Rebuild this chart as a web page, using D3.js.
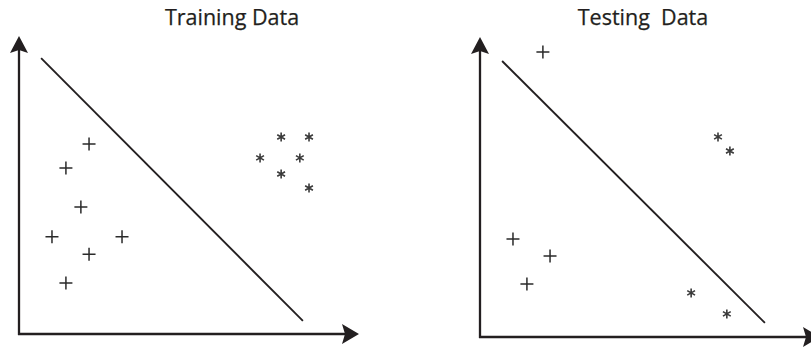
<!DOCTYPE html>
<html>
<head>
<meta charset="utf-8">
<script src="https://cdn.jsdelivr.net/npm/d3@7"></script>
<style>
  html, body { margin: 0; padding: 0; background: #fff; }
  svg { display: block; }
</style>
</head>
<body>
<svg id="chart" width="811" height="347"></svg>
<script>
// ---- data ----
const panelTitles = ["Training Data", "Testing\u00a0 Data"];

const trainPlusX = [2.06, 1.38, 1.82, 0.97, 3.03, 2.06, 1.38];
const trainPlusY = [6.38, 5.57, 4.26, 3.26, 3.26, 2.68, 1.71];
const trainStarX = [7.71, 8.53, 7.09, 8.26, 7.71, 8.53];
const trainStarY = [6.61, 6.61, 5.91, 5.91, 5.37, 4.90];
const trainLineX = [0.65, 8.35];
const trainLineY = [9.26, 0.44];

const testPlusX = [1.85, 0.97, 2.06, 1.38];
const testPlusY = [9.50, 3.27, 2.70, 1.77];
const testStarX = [7.00, 7.35, 6.21, 7.26];
const testStarY = [6.67, 6.20, 1.47, 0.77];
const testLineX = [0.65, 8.38];
const testLineY = [9.20, 0.47];

const axisDomain = [0, 10];

// ---- layout ----
const panels = [
  { title: panelTitles[0], titleX: 232, left: 19, bottom: 334, top: 36, right: 359,
    plus: trainPlusX.map((x, i) => [x, trainPlusY[i]]),
    star: trainStarX.map((x, i) => [x, trainStarY[i]]),
    line: trainLineX.map((x, i) => [x, trainLineY[i]]) },
  { title: panelTitles[1], titleX: 643, left: 480, bottom: 337, top: 37, right: 820,
    plus: testPlusX.map((x, i) => [x, testPlusY[i]]),
    star: testStarX.map((x, i) => [x, testStarY[i]]),
    line: testLineX.map((x, i) => [x, testLineY[i]]) }
];

const svg = d3.select("#chart");
const ink = "#231f20";

panels.forEach(p => {
  const x = d3.scaleLinear().domain(axisDomain).range([p.left, p.right]);
  const y = d3.scaleLinear().domain(axisDomain).range([p.bottom, p.top]);
  const g = svg.append("g");

  // title
  g.append("text")
    .attr("x", p.titleX).attr("y", 25)
    .attr("text-anchor", "middle")
    .attr("font-family", "'Open Sans', sans-serif")
    .attr("font-size", 21.5)
    .attr("fill", ink)
    .attr("stroke", ink).attr("stroke-width", 0.25)
    .text(p.title);

  // axes
  const x0 = x(axisDomain[0]), x1 = x(axisDomain[1]);
  const y0 = y(axisDomain[0]), y1 = y(axisDomain[1]);
  g.append("line")
    .attr("x1", x0).attr("y1", y0 + 1).attr("x2", x0).attr("y2", y1 + 10)
    .attr("stroke", ink).attr("stroke-width", 2.3);
  g.append("line")
    .attr("x1", x0 - 1).attr("y1", y0).attr("x2", x1 - 10).attr("y2", y0)
    .attr("stroke", ink).attr("stroke-width", 2.3);
  // arrowheads
  g.append("path")
    .attr("d", `M${x0},${y1} L${x0 + 9},${y1 + 17} L${x0},${y1 + 14} L${x0 - 9},${y1 + 17} Z`)
    .attr("fill", ink);
  g.append("path")
    .attr("d", `M${x1},${y0} L${x1 - 17},${y0 - 10} L${x1 - 14},${y0} L${x1 - 17},${y0 + 10} Z`)
    .attr("fill", ink);

  // separating line
  g.append("path")
    .attr("d", d3.line().x(d => x(d[0])).y(d => y(d[1]))(p.line))
    .attr("stroke", ink).attr("stroke-width", 1.9).attr("fill", "none");

  // plus markers
  const r = 6.5;
  g.selectAll(".plus").data(p.plus).join("path")
    .attr("class", "plus")
    .attr("d", d => {
      const cx = x(d[0]), cy = y(d[1]);
      return `M${cx - r},${cy} L${cx + r},${cy} M${cx},${cy - r} L${cx},${cy + r}`;
    })
    .attr("stroke", "#2a2a2a").attr("stroke-width", 1.5).attr("fill", "none");

  // asterisk markers
  const s = 4.5;
  g.selectAll(".star").data(p.star).join("path")
    .attr("class", "star")
    .attr("d", d => {
      const cx = x(d[0]), cy = y(d[1]);
      let path = "";
      [90, 30, 150].forEach(a => {
        const dx = s * Math.cos(a * Math.PI / 180), dy = s * Math.sin(a * Math.PI / 180);
        path += `M${cx - dx},${cy - dy} L${cx + dx},${cy + dy} `;
      });
      return path;
    })
    .attr("stroke", "#3a3a3a").attr("stroke-width", 1.6).attr("fill", "none");
});
</script>
</body>
</html>
